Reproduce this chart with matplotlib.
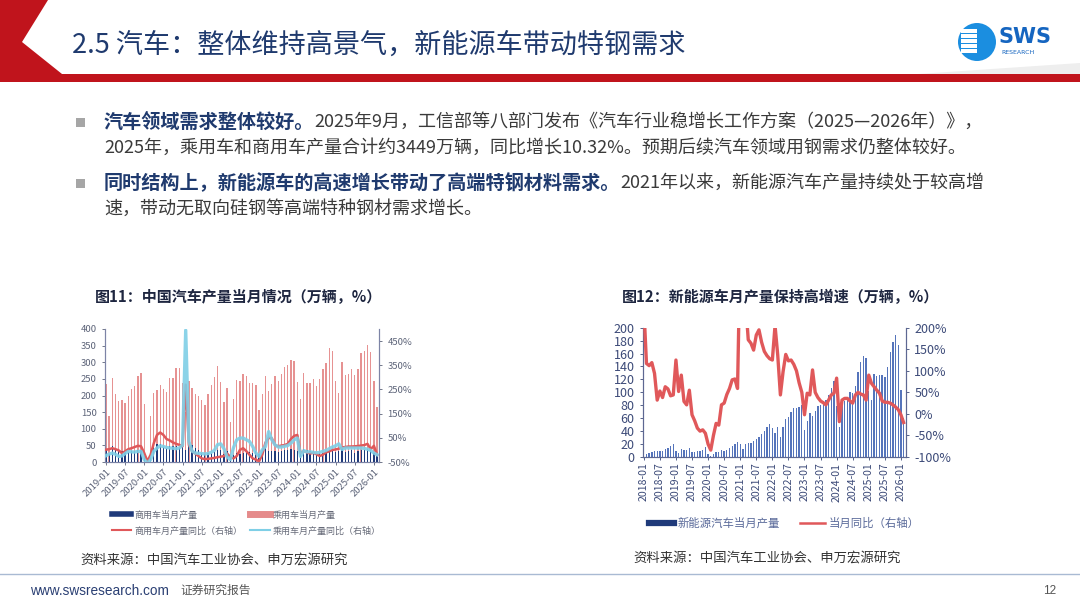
import numpy as np
import pandas as pd
import matplotlib
matplotlib.use('Agg')
import matplotlib.pyplot as plt
from matplotlib.patches import Polygon, Ellipse, Rectangle
from matplotlib.lines import Line2D

plt.rcParams['font.family'] = ['Noto Sans CJK SC', 'DejaVu Sans']
plt.rcParams['axes.unicode_minus'] = False

W, H = 1080, 608

# ---- 图11 数据 (万辆, %) 2019-01 ~ 2026-02
months1 = pd.period_range('2019-01', '2026-02', freq='M')
pass_prod = [234, 139, 254, 204, 183, 186, 178, 197, 219, 229, 258, 268,
             174, 6, 139, 209, 217, 231, 219, 210, 252, 254, 284, 282,
             237, 150, 244, 222, 205, 199, 187, 172, 205, 232, 255, 290,
             240, 180, 222, 119, 190, 247, 245, 265, 259, 239, 237, 232,
             157, 205, 260, 213, 235, 258, 245, 265, 285, 292, 307, 305,
             240, 190, 267, 239, 239, 249, 229, 249, 279, 299, 342, 335,
             244, 209, 300, 262, 265, 279, 262, 279, 327, 334, 352, 330,
             244, 165]
comm_prod = [39, 25, 47, 40, 37, 34, 30, 30, 34, 33, 35, 37,
             25, 4, 30, 52, 53, 54, 46, 41, 48, 47, 47, 43,
             52, 35, 62, 52, 43, 35, 27, 24, 27, 27, 30, 35,
             35, 25, 32, 18, 21, 27, 23, 26, 30, 29, 28, 33,
             24, 32, 41, 32, 34, 33, 30, 34, 36, 35, 40, 37,
             32, 24, 40, 35, 32, 33, 28, 26, 27, 30, 33, 36,
             30, 32, 45, 30, 34, 35, 28, 32, 36, 36, 39, 38,
             28, 20]
comm_yoy = [1, 3, 7, 3, -2, -13, -6, 3, 7, 12, 17, 15,
            -13, -47, -20, 28, 62, 72, 62, 45, 39, 31, 25, 21,
            15, 270, 20, -5, -15, -25, -35, -38, -37, -35, -33, -30,
            -28, -25, -15, -30, -35, -25, 0, 7, -5, -20, -35, -40,
            -47, -20, 30, 50, 48, 20, 15, 18, 20, 25, 45, 58,
            62, -13, -5, -10, -15, -12, -18, -25, -20, -10, -6, 0,
            2, 5, 10, 12, 14, 14, 15, 16, 18, 20, 25, 3,
            17, -20]
pass_yoy = [-24, -17, -13, -18, -27, -25, -15, -6, -8, -9, -6, -6,
            -40, -55, -40, -6, 8, 17, 14, 10, 8, 7, 5, 8,
            20, 495, 35, -5, -13, -14, -15, -17, -15, -10, -2, 22,
            25, 5, -30, -40, 10, 42, 49, 49, 42, 35, 14, -13,
            -27, 0, 14, 76, 42, 21, 12, 12, 15, 18, 28, 42,
            49, -27, -3, -8, -8, -10, -12, -10, -6, -2, 5, 12,
            17, 25, 2, 8, 8, 8, 8, 8, 8, 6, 3, -2,
            -13, -20]

# ---- 图12 数据 2018-01 ~ 2026-02
months2 = pd.period_range('2018-01', '2026-02', freq='M')
nev_prod = [4.1, 3.9, 6.8, 8.1, 9.6, 8.7, 9.0, 9.9, 12.7, 14.6, 17.3, 19.8,
            9.1, 5.9, 12.8, 10.2, 11.2, 13.4, 8.4, 8.0, 8.9, 9.5, 10.9, 14.9,
            4.1, 1.0, 5.3, 8.3, 8.3, 10.2, 10.0, 10.5, 13.6, 16.4, 19.8, 23.5,
            20.0, 12.4, 20.0, 21.7, 21.6, 24.8, 28.4, 30.5, 35.3, 39.7, 45.7, 51.8,
            45.2, 36.8, 46.5, 31.2, 46.6, 59.0, 61.7, 69.1, 75.5, 76.2, 76.8, 79.8,
            42.5, 55.2, 67.4, 64.0, 71.3, 78.4, 80.5, 87.2, 87.9, 95.9, 106.7, 117.2,
            78.7, 46.0, 86.5, 87.0, 93.4, 100.3, 98.4, 109.3, 130.9, 146.3, 156.6, 153.5,
            101.5, 88.8, 127.7, 125.1, 127.0, 126.8, 124.3, 139.1, 161.7, 177.2, 188.0, 173.0,
            104.0, 60.0]
nev_yoy = [250, 117, 112, 119, 94, 32, 53, 38, 63, 58, 42, 44,
           125, 52, 90, 29, 21, 55, -2, -16, -33, -40, -37, -45,
           -70, -84, -50, -22, -26, 21, 25, 45, 59, 79, 81, 59,
           390, 300, 260, 172, 164, 148, 183, 195, 166, 145, 135, 128,
           125, 205, 137, 44, 98, 138, 123, 125, 115, 100, 72, 50,
           -2, 48, 44, 102, 50, 38, 30, 26, 21, 32, 44, 48,
           83, -18, 32, 36, 36, 30, 25, 44, 50, 46, 44, 32,
           90, 71, 63, 55, 48, 30, 27, 27, 25, 21, 16, 10,
           -2, -20]

navy = '#1f3a7a'
title_c = '#1f3a6e'
text_c = '#3a3a3a'


def fx(x):
    return x / W


def fy(y):
    return 1 - y / H


fig = plt.figure(figsize=(10.8, 6.08), dpi=100, facecolor='white')

# ---- 页眉
red_shape = [(0, 0), (48, 0), (22, 42), (62, 74), (W, 74), (W, 82), (0, 82)]
fig.add_artist(Polygon([(fx(a), fy(b)) for a, b in red_shape], closed=True,
                       transform=fig.transFigure, facecolor='#c0141c', edgecolor='none'))
gray_shape = [(918, 74), (W, 63), (W, 74)]
fig.add_artist(Polygon([(fx(a), fy(b)) for a, b in gray_shape], closed=True,
                       transform=fig.transFigure, facecolor='#eeeeee', edgecolor='none'))
fig.text(fx(72), fy(45), '2.5 汽车：整体维持高景气，新能源车带动特钢需求',
         fontsize=19.5, color=title_c, va='center', ha='left')

# logo
fig.add_artist(Ellipse((fx(977), fy(42)), 38 / W, 38 / H, transform=fig.transFigure,
                       facecolor='#1b8ee0', edgecolor='none'))
for yy in [31, 36, 41, 46, 51]:
    fig.add_artist(Rectangle((fx(961), fy(yy + 1.5)), 16 / W, 3 / H, transform=fig.transFigure,
                             facecolor='white', edgecolor='none'))
fig.text(fx(999), fy(37), 'SWS', fontsize=15, fontweight='bold', color='#1565c0',
         va='center', ha='left', family='DejaVu Sans')
fig.text(fx(1001), fy(53), 'RESEARCH', fontsize=4.5, color='#1565c0', va='center', ha='left',
         family='DejaVu Sans')

# ---- 正文要点
renderer = fig.canvas.get_renderer()


def put_runs(x, y, runs, size=13.0):
    for s, c, w in runs:
        sz = size + 0.8 if w == 'bold' else size
        t = fig.text(fx(x), fy(y), s, color=c, fontsize=sz, fontweight=w,
                     va='center', ha='left')
        x += t.get_window_extent(renderer=renderer).width


for yy in [122, 183]:
    fig.add_artist(Rectangle((fx(76), fy(yy + 4.5)), 9 / W, 9 / H, transform=fig.transFigure,
                             facecolor='#a6a6a6', edgecolor='none'))

put_runs(104, 122, [('汽车领域需求整体较好。', title_c, 'bold'),
                    ('2025年9月，工信部等八部门发布《汽车行业稳增长工作方案（2025—2026年）》，', text_c, 'normal')])
put_runs(104, 148, [('2025年，乘用车和商用车产量合计约3449万辆，同比增长10.32%。预期后续汽车领域用钢需求仍整体较好。', text_c, 'normal')])
put_runs(104, 183, [('同时结构上，新能源车的高速增长带动了高端特钢材料需求。', title_c, 'bold'),
                    ('2021年以来，新能源汽车产量持续处于较高增', text_c, 'normal')])
put_runs(104, 209, [('速，带动无取向硅钢等高端特种钢材需求增长。', text_c, 'normal')])

# ---- 图标题
fig.text(fx(95), fy(297), '图11：中国汽车产量当月情况（万辆，%）', fontsize=10.8,
         fontweight='bold', color='#1e2640', va='center', ha='left')
fig.text(fx(622), fy(297), '图12：新能源车月产量保持高增速（万辆，%）', fontsize=10.8,
         fontweight='bold', color='#1e2640', va='center', ha='left')

# ---- 图11
ax1 = fig.add_axes([fx(105), fy(462), 274 / W, 133 / H])
x1 = np.arange(len(months1))
ax1.bar(x1, pass_prod, width=0.42, color='#e69292', zorder=2)
ax1.bar(x1, comm_prod, width=0.38, color=navy, zorder=3)
ax1.set_xlim(-0.3, 85.6)
ax1.set_ylim(0, 400)
ax1.set_yticks(range(0, 401, 50))
ax1.set_xticks(x1[::6])
ax1.set_xticklabels([m.strftime('%Y-%m') for m in months1[::6]], rotation=45,
                    ha='right', rotation_mode='anchor')
ax1.tick_params(axis='both', labelsize=6.8, colors='#5c6378', length=2.5, width=0.6)
ax1.tick_params(axis='x', pad=1.5)
ax2 = ax1.twinx()
ax2.plot(x1, comm_yoy, color='#e0585a', lw=1.8, zorder=4)
ax2.plot(x1, pass_yoy, color='#7fcfe6', lw=2.4, alpha=0.9, zorder=5)
ax2.set_ylim(-50, 500)
ax2.set_yticks(range(-50, 451, 100))
ax2.set_yticklabels([f'{v}%' for v in range(-50, 451, 100)])
ax2.tick_params(axis='y', labelsize=6.8, colors='#5c6378', length=2.5, width=0.6)
for a in (ax1, ax2):
    a.spines['top'].set_visible(False)
    for s in ('left', 'right', 'bottom'):
        a.spines[s].set_color('#7d84a6')
        a.spines[s].set_linewidth(0.8)

h1 = [Line2D([], [], color=navy, lw=4),
      Line2D([], [], color='#e0585a', lw=1.5),
      Line2D([], [], color='#e58b8b', lw=5),
      Line2D([], [], color='#7fcfe6', lw=1.5)]
l1 = ['商用车当月产量', '商用车月产量同比（右轴）', '乘用车当月产量', '乘用车月产量同比（右轴）']
fig.legend(h1, l1, ncol=2, loc='upper left', bbox_to_anchor=(fx(107), fy(506)), frameon=False,
           fontsize=6.5, labelcolor='#666a78', handlelength=2.2, handletextpad=0.3,
           columnspacing=0.9, labelspacing=0.75, borderpad=0)

# ---- 图12
ax3 = fig.add_axes([fx(643), fy(457), 263 / W, 129.3 / H])
x2 = np.arange(len(months2))
ax3.bar(x2, nev_prod, width=0.5, color='#5574bb', zorder=2)
ax3.set_xlim(-0.3, 97.9)
ax3.set_ylim(0, 200)
ax3.set_yticks(range(0, 201, 20))
ax3.set_xticks(x2[::6])
ax3.set_xticklabels([m.strftime('%Y-%m') for m in months2[::6]], rotation=90)
ax3.tick_params(axis='y', labelsize=9, colors='#3c4a78', length=2.5, width=0.6)
ax3.tick_params(axis='x', labelsize=7.6, colors='#3c4a78', length=2.5, width=0.6, pad=1.5)
ax4 = ax3.twinx()
ax4.plot(x2, nev_yoy, color='#e0585a', lw=2.4, zorder=4)
ax4.set_ylim(-100, 200)
ax4.set_yticks(range(-100, 201, 50))
ax4.set_yticklabels([f'{v}%' for v in range(-100, 201, 50)])
ax4.tick_params(axis='y', labelsize=9, colors='#3c4a78', length=2.5, width=0.6)
for a in (ax3, ax4):
    a.spines['top'].set_visible(False)
    for s in ('left', 'right', 'bottom'):
        a.spines[s].set_color('#5d6792')
        a.spines[s].set_linewidth(0.8)

h2 = [Line2D([], [], color=navy, lw=4.5), Line2D([], [], color='#e0585a', lw=1.8)]
fig.legend(h2, ['新能源汽车当月产量', '当月同比（右轴）'], ncol=2, loc='center left',
           bbox_to_anchor=(fx(643), fy(523)), frameon=False, fontsize=8.2,
           labelcolor='#5a6a9a', handlelength=2.2, handletextpad=0.3, columnspacing=1.8,
           borderpad=0)

# ---- 资料来源
fig.text(fx(80), fy(560), '资料来源：中国汽车工业协会、申万宏源研究', fontsize=9.6,
         color='#333333', va='center', ha='left')
fig.text(fx(633), fy(558), '资料来源：中国汽车工业协会、申万宏源研究', fontsize=9.6,
         color='#333333', va='center', ha='left')

# ---- 页脚
fig.add_artist(Line2D([0, 1], [fy(574), fy(574)], transform=fig.transFigure,
                      color='#a9bad3', lw=1.0))
fig.text(fx(30), fy(591), 'www.swsresearch.com', fontsize=9.8, color='#2a3f73',
         va='center', ha='left', family='Liberation Sans')
fig.text(fx(180), fy(590), '证券研究报告', fontsize=8.5, color='#555555', va='center', ha='left')
fig.text(fx(1050), fy(591), '12', fontsize=8.5, color='#555555', va='center', ha='center',
         family='Liberation Sans')

fig.savefig('out.png', dpi=100, facecolor='white')
